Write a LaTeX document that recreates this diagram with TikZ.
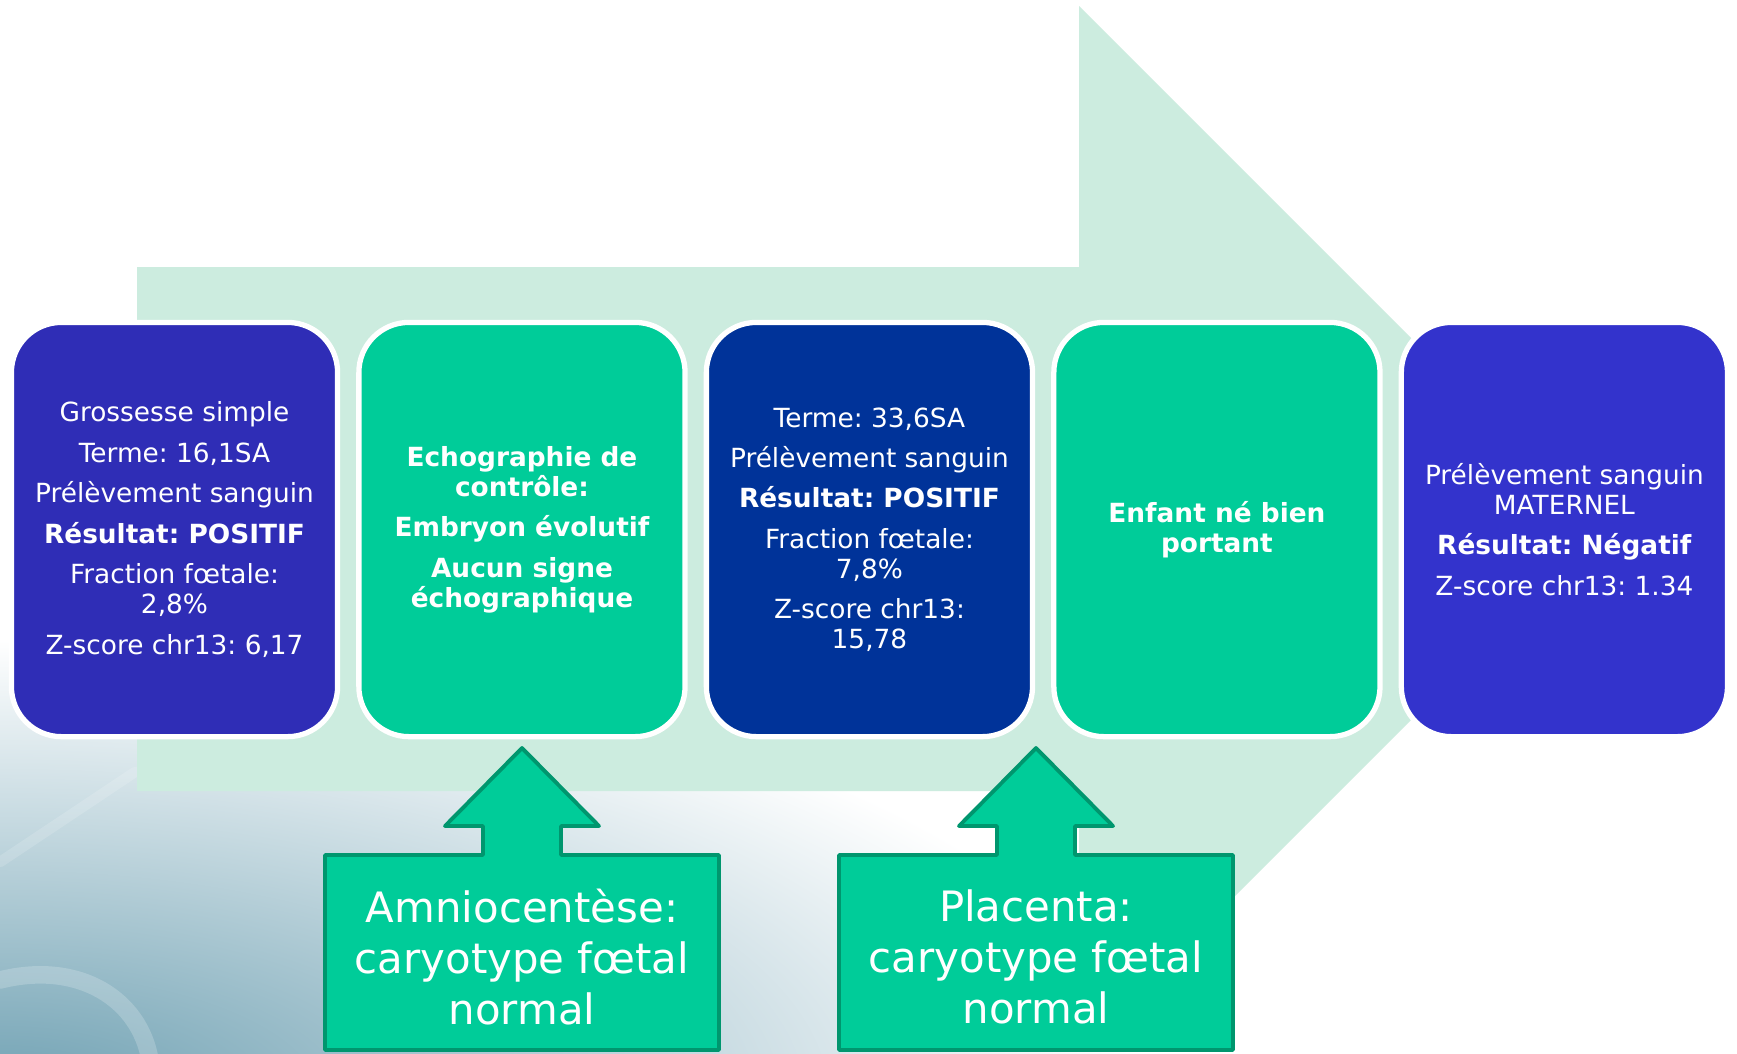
\documentclass[tikz,border=0pt]{standalone}
\usepackage{fontspec}
\setmainfont{DejaVu Sans}
\frenchspacing
\usetikzlibrary{positioning}
\definecolor{indigo}{RGB}{47,45,182}
\definecolor{royal}{RGB}{0,51,153}
\definecolor{violetblue}{RGB}{51,51,204}
\definecolor{mint}{RGB}{0,204,153}
\definecolor{mintdark}{RGB}{0,150,110}
\definecolor{arrowbg}{RGB}{204,236,223}
\definecolor{bgdeep}{RGB}{110,160,178}
\tikzset{
  stage/.style={rounded corners=0.5cm, draw=white, line width=1.5pt, minimum width=3.26cm,
    minimum height=4.14cm, text=white, align=center, inner sep=0pt,
    font=\fontsize{7.5}{8.5}\selectfont},
  bold stage/.style={stage, font=\fontsize{7.5}{8.5}\selectfont\bfseries},
  callout/.style={fill=mint, draw=mintdark, line width=1.1pt, line join=round},
  calltext/.style={text=white, align=center, font=\fontsize{11.9}{14.5}\selectfont}
}
\begin{document}
\begin{tikzpicture}[x=0.01cm, y=-0.01cm, line join=round, line cap=round]
  \useasboundingbox (0,0) rectangle (1737,1053);
  \fill[white] (0,0) rectangle (1737,1053);
  % background of the slide
  \begin{scope}
    \clip (0,0) rectangle (1737,1053);
    \shade[inner color=bgdeep, outer color=white] (0,1100) ellipse [x radius=1150, y radius=460];
    \draw[white, opacity=0.2, line width=5pt] (0,980) .. controls (80,960) and (140,1000) .. (150,1060);
    \draw[white, opacity=0.15, line width=3pt] (0,862) -- (135,772);
  \end{scope}
  % big arrow behind the stages
  \fill[arrowbg] (137,267) -- (1079,267) -- (1079,6) -- (1602,529) -- (1079,1052)
    -- (1079,791) -- (137,791) -- cycle;
  % stages
  \node[stage, fill=indigo] (b1) at (174.5,529.5) {Grossesse simple\\[3pt]
    Terme: 16,1SA\\[3pt] Prélèvement sanguin\\[3pt] \textbf{Résultat: POSITIF}\\[3pt]
    Fraction fœtale:\\ 2,8\%\\[3pt] Z-score chr13: 6,17};
  \node[bold stage, fill=mint, right=0.16cm of b1] (b2) {Echographie de\\ contrôle:\\[3pt]
    Embryon évolutif\\[3pt] Aucun signe\\ échographique};
  \node[stage, fill=royal, right=0.16cm of b2] (b3) {Terme: 33,6SA\\[3pt]
    Prélèvement sanguin\\[3pt] \textbf{Résultat: POSITIF}\\[3pt] Fraction fœtale:\\ 7,8\%\\[3pt]
    Z-score chr13:\\ 15,78};
  \node[bold stage, fill=mint, right=0.16cm of b3] (b4) {Enfant né bien\\ portant};
  \node[stage, fill=violetblue, right=0.16cm of b4] (b5) {Prélèvement sanguin\\ MATERNEL\\[3pt]
    \textbf{Résultat: Négatif}\\[3pt] Z-score chr13: 1.34};
  % up arrows with results
  \foreach \cx in {522,1036}
    \draw[callout] (\cx-197,1050) -- (\cx-197,855) -- (\cx-39,855) -- (\cx-39,826) -- (\cx-77,826)
      -- (\cx,748) -- (\cx+77,826) -- (\cx+39,826) -- (\cx+39,855) -- (\cx+197,855) -- (\cx+197,1050) -- cycle;
  \node[calltext] (amnio) at (522,957) {Amniocentèse:\\ caryotype fœtal\\ normal};
  \node[calltext] (placenta) at (1036,957) {Placenta:\\ caryotype fœtal\\ normal};
\end{tikzpicture}
\end{document}
